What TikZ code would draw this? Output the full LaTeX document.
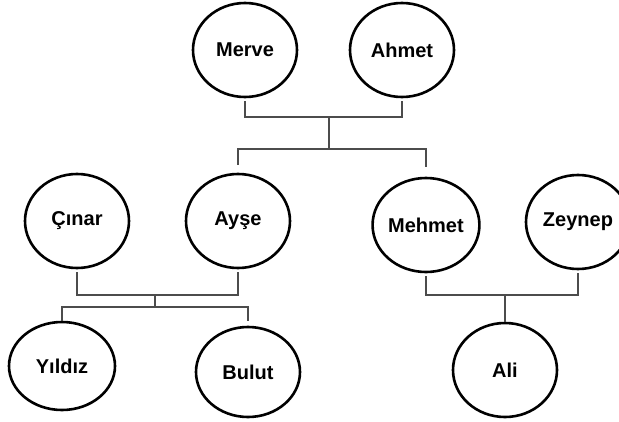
\documentclass[tikz,border=0pt]{standalone}
\usepackage{fontspec}
\setmainfont{Liberation Sans}
\usetikzlibrary{shapes.geometric}
\begin{document}
\begin{tikzpicture}[x=1pt,y=-1pt,
  person/.style={ellipse,draw=black,line width=2.6pt,minimum width=104pt,minimum height=94pt,inner sep=0pt,font=\bfseries\fontsize{20}{23}\selectfont},
  conn/.style={draw=black!70,line width=2pt}]
\useasboundingbox[fill=white] (0,0) rectangle (619,421);
\node[person] (merve) at (245,50) {Merve};
\node[person] (ahmet) at (402,50) {Ahmet};
\node[person] (cinar) at (77,221) {Çınar};
\node[person] (ayse) at (238,221) {Ayşe};
\node[person] (mehmet) at (426,225) {Mehmet};
\node[person] (zeynep) at (578,222) {Zeynep};
\node[person,minimum width=106pt,minimum height=88pt] (yildiz) at (62,366) {Yıldız};
\node[person,minimum width=104pt,minimum height=90pt] (bulut) at (248,372) {Bulut};
\node[person] (ali) at (505,370) {Ali};
\coordinate (j1) at (329,117);
\coordinate (j1b) at (329,149);
\coordinate (j2) at (155,295);
\coordinate (j2b) at (155,307);
\coordinate (j3) at (505,295);
\draw[conn] ([yshift=-3pt]merve.south) |- (j1) -| ([yshift=-3pt]ahmet.south);
\draw[conn] (j1) -- (j1b);
\draw[conn] ([yshift=8pt]ayse.north) |- (j1b) -| ([yshift=10pt]mehmet.north);
\draw[conn] ([yshift=-3pt]cinar.south) |- (j2) -| ([yshift=-3pt]ayse.south);
\draw[conn] (j2) -- (j2b);
\draw[conn] (yildiz.north) |- (j2b) -| ([yshift=5pt]bulut.north);
\draw[conn] ([yshift=-3pt]mehmet.south) |- (j3) -| ([yshift=-3pt]zeynep.south);
\draw[conn] (j3) -- (ali.north);
\end{tikzpicture}
\end{document}
